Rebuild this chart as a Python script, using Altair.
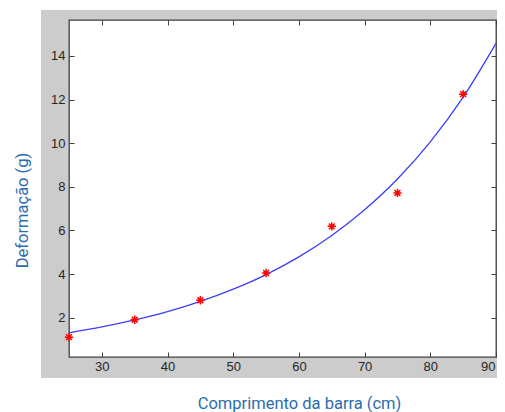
import altair as alt
import pandas as pd

# measured points (red asterisks)
x_pts = [25, 35, 45, 55, 65, 75, 85]
y_pts = [1.11, 1.91, 2.80, 4.05, 6.19, 7.72, 12.25]

# fitted curve (blue)
x_fit = [25, 30, 35, 40, 45, 50, 55, 60, 65, 70, 75, 80, 85, 90]
y_fit = [1.31, 1.58, 1.90, 2.28, 2.75, 3.31, 3.98, 4.79, 5.77, 6.95, 8.36, 10.06, 12.11, 14.58]

x_ticks = [30, 40, 50, 60, 70, 80, 90]
y_ticks = [2, 4, 6, 8, 10, 12, 14]

x_title = "Comprimento da barra (cm)"
y_title = "Deformação (g)"

W, H = 427, 337
PAD_L, PAD_T, PAD_R, PAD_B = 61, 12, 1, 55

pts = pd.DataFrame({"x": x_pts, "y": y_pts})
fit = pd.DataFrame({"x": x_fit, "y": y_fit})
dummy = pd.DataFrame({"a": [0]})

xs = alt.Scale(domain=[25, 90], nice=False, zero=False)
ys = alt.Scale(domain=[0.2, 15.65], nice=False, zero=False)

AX = "#404040"
TITLE_C = "#2b6cb0"
LBL_FONT = "Liberation Sans"

x_axis = alt.Axis(
    orient="bottom", values=x_ticks, format="d", offset=-5, tickSize=5,
    tickColor=AX, tickWidth=1, domain=False, grid=False,
    labelFont=LBL_FONT, labelFontSize=13, labelColor="#262626",
    labelPadding=3, labelFlush=True, labelFlushOffset=-1, labelOverlap=False,
    title=x_title, titleFont="Roboto", titleFontSize=16.5,
    titleFontWeight="normal", titleColor=TITLE_C,
    titleX=230, titleY=56, titleAlign="center", titleBaseline="alphabetic",
    zindex=1,
)
y_axis = alt.Axis(
    orient="left", values=y_ticks, format="d", offset=-5, tickSize=5,
    tickColor=AX, tickWidth=1, domain=False, grid=False,
    labelFont=LBL_FONT, labelFontSize=13, labelColor="#262626",
    labelPadding=4, labelFlush=False, labelOverlap=False,
    title=y_title, titleFont="Roboto", titleFontSize=16.5,
    titleFontWeight="normal", titleColor=TITLE_C,
    titleX=-52, titleY=190, titleAngle=270, titleAlign="center",
    titleBaseline="middle", zindex=1,
)
x_axis_top = alt.Axis(
    orient="top", values=x_ticks, offset=-5, tickSize=5, tickColor=AX,
    tickWidth=1, domain=False, grid=False, labels=False, title=None, zindex=1,
)
y_axis_right = alt.Axis(
    orient="right", values=y_ticks, offset=-5, tickSize=5, tickColor=AX,
    tickWidth=1, domain=False, grid=False, labels=False, title=None, zindex=1,
)

# white page areas around the grey figure background
white_left = alt.Chart(dummy).mark_rect(color="white").encode(
    x=alt.value(-PAD_L), x2=alt.value(-28), y=alt.value(-PAD_T), y2=alt.value(H + PAD_B)
)
white_bottom = alt.Chart(dummy).mark_rect(color="white").encode(
    x=alt.value(-PAD_L), x2=alt.value(W + PAD_R), y=alt.value(H + 21), y2=alt.value(H + PAD_B)
)
white_top = alt.Chart(dummy).mark_rect(color="white").encode(
    x=alt.value(-PAD_L), x2=alt.value(W + PAD_R), y=alt.value(-PAD_T), y2=alt.value(-10)
)

line = alt.Chart(fit).mark_line(
    color="#3d3dff", strokeWidth=1.3, interpolate="monotone"
).encode(
    x=alt.X("x:Q", scale=xs, axis=x_axis),
    y=alt.Y("y:Q", scale=ys, axis=y_axis),
)

star = "M-1,0L1,0M0,-1L0,1M-0.7,-0.7L0.7,0.7M-0.7,0.7L0.7,-0.7"
points = alt.Chart(pts).mark_point(
    shape=star, size=70, color="#ff0000", strokeWidth=1.5, filled=False, opacity=1
).encode(
    x=alt.X("x:Q", scale=xs, axis=x_axis_top),
    y=alt.Y("y:Q", scale=ys, axis=y_axis_right),
)

chart = (
    alt.layer(white_left, white_bottom, white_top, line, points)
    .resolve_axis(x="independent", y="independent")
    .properties(
        width=W, height=H,
        autosize=alt.AutoSizeParams(type="none"),
        padding={"left": PAD_L, "top": PAD_T, "right": PAD_R, "bottom": PAD_B},
        background="#cccccc",
    )
    .configure_view(fill="white", stroke=AX, strokeWidth=1.3)
)

chart.save("out.html", embed_options={"renderer": "svg", "actions": False})
